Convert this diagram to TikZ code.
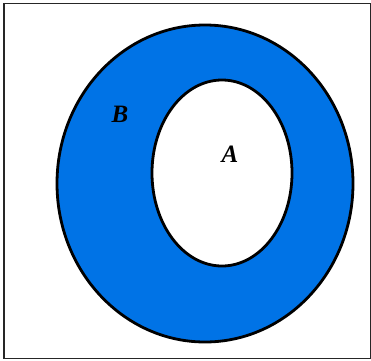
\documentclass[tikz,border=0pt]{standalone}
\usepackage{fontspec}
\setmainfont{Liberation Serif}
\definecolor{setblue}{RGB}{0,115,230}
\tikzset{
    setline/.style={draw=black, line width=2.8pt},
    setlabel/.style={font=\fontsize{25}{25}\selectfont\bfseries\itshape}
}
\begin{document}
\begin{tikzpicture}[x=1pt, y=1pt]
        \useasboundingbox (0,0) rectangle (371,360);
        % Explicit Coordinates (pixel grid, y up)
        \coordinate (Outer) at (205, 176.5);   % centre of B
        \coordinate (Inner) at (222, 187);     % centre of A

        % Universe
        \draw[line width=1.6pt, black!85] (4,1.5) rectangle (370.5,356.5);

        % Set B with the hole A
        \fill[setblue, even odd rule]
            (Outer) ellipse [x radius=148, y radius=158.5]
            (Inner) ellipse [x radius=70, y radius=93];
        \draw[setline] (Outer) ellipse [x radius=148, y radius=158.5];
        \draw[setline] (Inner) ellipse [x radius=70, y radius=93];

        \node[setlabel] (labB) at (120, 246) {B};
        \node[setlabel] (labA) at (230, 206) {A};
    \end{tikzpicture}
\end{document}
